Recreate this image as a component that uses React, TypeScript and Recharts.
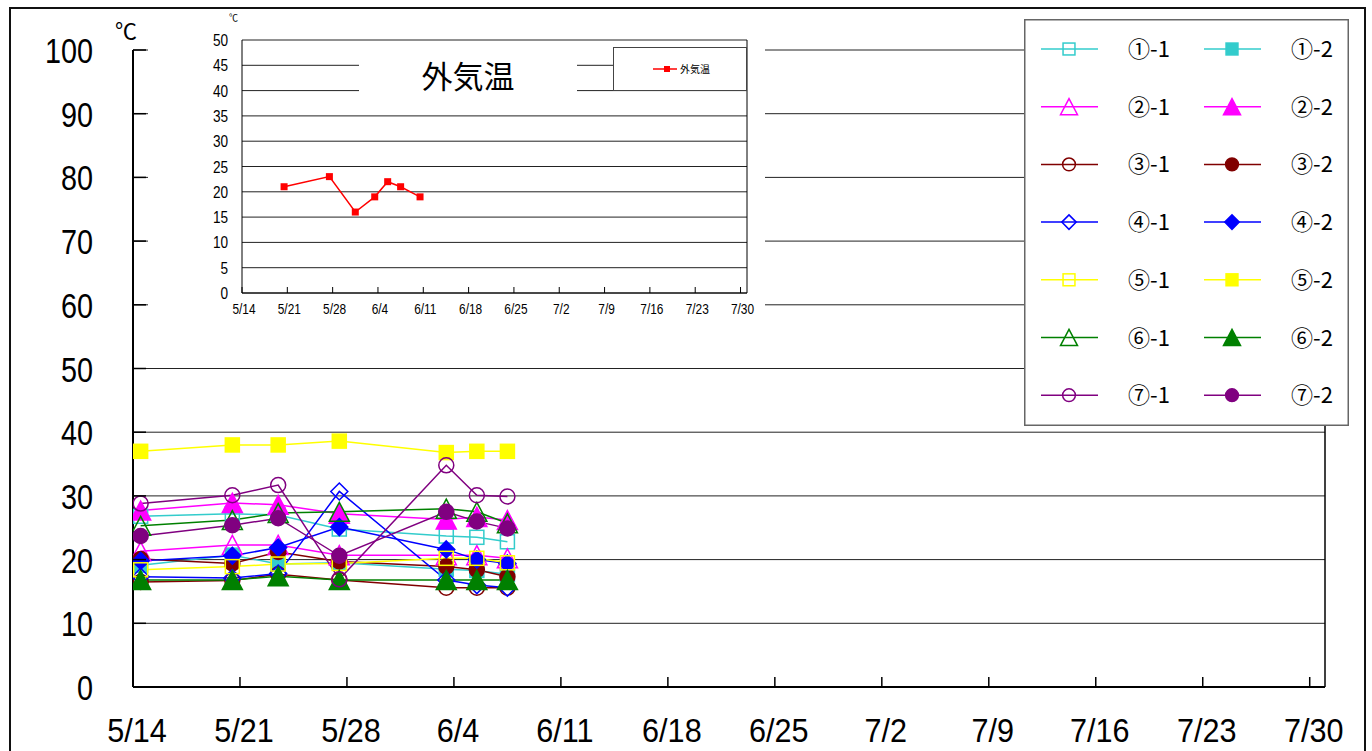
import React from 'react';
import { LineChart, Line, XAxis, YAxis, CartesianGrid, ReferenceLine, Legend } from 'recharts';

const SANS = "'Liberation Sans', Arial, sans-serif";
const JP = "'Noto Sans CJK JP', sans-serif";

// x axis: days after 5/14, one tick per week
const weekTicks = [0, 7, 14, 21, 28, 35, 42, 49, 56, 63, 70, 77];
const weekLabels = ['5/14', '5/21', '5/28', '6/4', '6/11', '6/18', '6/25', '7/2', '7/9', '7/16', '7/23', '7/30'];
const yTicks = [0, 10, 20, 30, 40, 50, 60, 70, 80, 90, 100];
const insetYTicks = [0, 5, 10, 15, 20, 25, 30, 35, 40, 45, 50];

// measurement days (5/14, 5/20, 5/23, 5/27, 6/3, 6/5, 6/7)
const measureDays = [0, 6, 9, 13, 20, 22, 24];
const s1_1 = [26.8, 27.2, 27.0, 24.8, 23.7, 23.5, 22.8];
const s1_2 = [19.1, 20.7, 19.3, 19.5, 18.5, 18.3, 17.7];
const s2_1 = [21.3, 22.3, 22.3, 20.7, 20.7, 20.7, 20.2];
const s2_2 = [27.7, 28.9, 28.6, 27.2, 26.3, 26.7, 26.2];
const s3_1 = [16.5, 16.7, 17.7, 16.8, 15.6, 15.6, 15.6];
const s3_2 = [20.1, 19.4, 21.2, 19.7, 18.9, 18.4, 17.3];
const s4_1 = [17.3, 17.1, 17.8, 30.7, 16.8, 16.0, 15.6];
const s4_2 = [19.8, 20.6, 21.9, 25.1, 21.6, 20.0, 19.4];
const s5_1 = [18.4, 18.9, 19.3, 19.4, 20.2, 20.2, 19.5];
const s5_2 = [37.0, 38.0, 38.0, 38.6, 36.8, 37.0, 37.0];
const s6_1 = [25.3, 26.2, 27.3, 27.5, 28.0, 27.5, 25.7];
const s6_2 = [16.8, 16.8, 17.4, 16.8, 16.8, 16.8, 16.8];
const s7_1 = [28.8, 30.1, 31.7, 16.9, 34.8, 30.1, 29.9];
const s7_2 = [23.7, 25.4, 26.5, 20.6, 27.5, 26.0, 24.9];

// outside temperature (5/20, 5/27, 5/31, 6/3, 6/5, 6/7, 6/10)
const outsideDays = [6, 13, 17, 20, 22, 24, 27];
const outsideTemp = [21, 23, 16, 19, 22, 21, 19];

const series = [
  { key: 's1_1', name: '①-1', values: s1_1, color: '#33CCCC', shape: 'square', filled: false },
  { key: 's1_2', name: '①-2', values: s1_2, color: '#33CCCC', shape: 'square', filled: true },
  { key: 's2_1', name: '②-1', values: s2_1, color: '#FF00FF', shape: 'triangle', filled: false },
  { key: 's2_2', name: '②-2', values: s2_2, color: '#FF00FF', shape: 'triangle', filled: true },
  { key: 's3_1', name: '③-1', values: s3_1, color: '#800000', shape: 'circle', filled: false },
  { key: 's3_2', name: '③-2', values: s3_2, color: '#800000', shape: 'circle', filled: true },
  { key: 's4_1', name: '④-1', values: s4_1, color: '#0000FF', shape: 'diamond', filled: false },
  { key: 's4_2', name: '④-2', values: s4_2, color: '#0000FF', shape: 'diamond', filled: true },
  { key: 's5_1', name: '⑤-1', values: s5_1, color: '#FFFF00', shape: 'square', filled: false },
  { key: 's5_2', name: '⑤-2', values: s5_2, color: '#FFFF00', shape: 'square', filled: true },
  { key: 's6_1', name: '⑥-1', values: s6_1, color: '#008000', shape: 'triangle', filled: false },
  { key: 's6_2', name: '⑥-2', values: s6_2, color: '#008000', shape: 'triangle', filled: true },
  { key: 's7_1', name: '⑦-1', values: s7_1, color: '#800080', shape: 'circle', filled: false },
  { key: 's7_2', name: '⑦-2', values: s7_2, color: '#800080', shape: 'circle', filled: true },
];

// points sit in the middle of their day
const mainRows = measureDays.map((d, i) => {
  const row: any = { x: d + 0.5 };
  series.forEach((s) => { row[s.key] = s.values[i]; });
  return row;
});
const insetRows = outsideDays.map((d, i) => ({ x: d + 0.5, t: outsideTemp[i] }));

const drawMarker = (shape: string, cx: number, cy: number, color: string, filled: boolean, k = 1) => {
  const fill = filled ? color : 'none';
  const sw = 1.5;
  if (shape === 'square') {
    const h = 7 * k;
    return <rect x={cx - h} y={cy - h} width={2 * h} height={2 * h} fill={fill} stroke={color} strokeWidth={sw} />;
  }
  if (shape === 'triangle') {
    const w = 10 * k;
    const h = 9.5 * k;
    return <polygon points={`${cx},${cy - h} ${cx + w},${cy + h} ${cx - w},${cy + h}`} fill={fill} stroke={color} strokeWidth={sw} />;
  }
  if (shape === 'diamond') {
    const h = 8.5 * k;
    return <polygon points={`${cx},${cy - h} ${cx + h},${cy} ${cx},${cy + h} ${cx - h},${cy}`} fill={fill} stroke={color} strokeWidth={sw} />;
  }
  return <circle cx={cx} cy={cy} r={7.5 * k} fill={fill} stroke={color} strokeWidth={sw} />;
};

// horizontally squeezed text, closer to the narrow Japanese UI font
const Narrow = ({ x, y, size, sx, anchor, children }: any) => (
  <text transform={`translate(${x},${y}) scale(${sx},1)`} textAnchor={anchor} fontSize={size} fontFamily={SANS} fill="#000">
    {children}
  </text>
);

const MainXTick = (props: any) => {
  const { x, y, payload } = props;
  const label = weekLabels[weekTicks.indexOf(payload.value)];
  return (
    <g>
      <line x1={x} x2={x} y1={y} y2={y - 10} stroke="#000" strokeWidth={1.5} />
      <Narrow x={x + 4} y={y + 55} size={34} sx={0.9} anchor="middle">{label}</Narrow>
    </g>
  );
};

const MainYTick = (props: any) => {
  const { x, y, payload } = props;
  return (
    <g>
      <line x1={x} x2={x + 13} y1={y} y2={y} stroke="#000" strokeWidth={1.5} />
      <Narrow x={x - 40} y={y + 13} size={36} sx={0.8} anchor="end">{payload.value}</Narrow>
    </g>
  );
};

const InsetXTick = (props: any) => {
  const { x, y, payload } = props;
  const label = weekLabels[weekTicks.indexOf(payload.value)];
  return (
    <g>
      <line x1={x} x2={x} y1={y} y2={y - 6} stroke="#000" />
      <Narrow x={x + 2} y={y + 21} size={14} sx={0.85} anchor="middle">{label}</Narrow>
    </g>
  );
};

const InsetYTick = (props: any) => {
  const { x, y, payload } = props;
  return <Narrow x={x - 14} y={y + 6} size={16} sx={0.85} anchor="end">{payload.value}</Narrow>;
};

const MainLegend = () => (
  <svg width={325} height={407}>
    <rect x={0.75} y={0.75} width={323.5} height={405.5} fill="#fff" stroke="#666" strokeWidth={1.5} />
    {series.map((s, i) => {
      const row = Math.floor(i / 2);
      const col = i % 2;
      const cy = 30 + row * 57.7;
      const x0 = 17 + col * 163;
      return (
        <g key={s.key}>
          <line x1={x0} x2={x0 + 57} y1={cy} y2={cy} stroke={s.color} strokeWidth={1.5} />
          {drawMarker(s.shape, x0 + 28, cy, s.color, s.filled, 0.85)}
          <text x={x0 + 87} y={cy + 8} fontSize={22} fontFamily={JP} fill="#000">{s.name}</text>
        </g>
      );
    })}
  </svg>
);

const InsetLegend = () => (
  <svg width={134} height={44}>
    <rect x={0.5} y={0.5} width={133} height={43} fill="#fff" stroke="#444" />
    <line x1={40} x2={64} y1={22} y2={22} stroke="#FF0000" strokeWidth={1.5} />
    <rect x={51} y={19} width={6} height={6} fill="#FF0000" />
    <text x={67} y={26} fontSize={10} fontFamily={JP} fill="#000">外気温</text>
  </svg>
);

export default function App() {
  return (
    <div style={{ position: 'absolute', left: 0, top: 0, width: 1372, height: 751, background: '#fff', overflow: 'hidden' }}>
      <LineChart width={1372} height={751} data={mainRows} margin={{ top: 50, right: 47, bottom: 0, left: 0 }}>
        <CartesianGrid vertical={false} stroke="#222" />
        <XAxis type="number" dataKey="x" domain={[0, 78]} ticks={weekTicks} interval={0} height={64}
          tickSize={0} tickMargin={0} tick={<MainXTick />} stroke="#000" strokeWidth={2} allowDataOverflow />
        <YAxis type="number" domain={[0, 100]} ticks={yTicks} interval={0} width={133}
          tickSize={0} tickMargin={0} tick={<MainYTick />} stroke="#000" strokeWidth={2} />
        <ReferenceLine x={78} stroke="#000" strokeWidth={1.5} />
        {series.map((s) => (
          <Line
            key={s.key}
            dataKey={s.key}
            name={s.name}
            stroke={s.color}
            strokeWidth={1.5}
            isAnimationActive={false}
            dot={(p: any) => <g key={`${s.key}-${p.index}`}>{drawMarker(s.shape, p.cx, p.cy, s.color, s.filled)}</g>}
            activeDot={false}
          />
        ))}
        <Legend layout="vertical" align="center" verticalAlign="middle" content={<MainLegend />}
          wrapperStyle={{ position: 'absolute', left: 1024, top: 19, width: 325, height: 407 }} />
      </LineChart>

      <div style={{ position: 'absolute', left: 115, top: 14, fontSize: 22, fontFamily: JP, lineHeight: '30px' }}>℃</div>

      <div style={{ position: 'absolute', left: 148, top: 12, width: 617, height: 310, background: '#fff' }}>
        <LineChart width={617} height={310} data={insetRows} margin={{ top: 28, right: 18, bottom: 0, left: 0 }}>
          <CartesianGrid vertical={false} stroke="#222" />
          <XAxis type="number" dataKey="x" domain={[0, 78]} ticks={weekTicks} interval={0} height={29}
            tickSize={0} tickMargin={0} tick={<InsetXTick />} stroke="#000" allowDataOverflow />
          <YAxis type="number" domain={[0, 50]} ticks={insetYTicks} interval={0} width={94}
            tickSize={0} tickMargin={0} tick={<InsetYTick />} stroke="#000" />
          <ReferenceLine x={78} stroke="#000" />
          <Line dataKey="t" name="外気温" stroke="#FF0000" strokeWidth={1.5} isAnimationActive={false} activeDot={false}
            dot={(p: any) => <rect key={`t-${p.index}`} x={p.cx - 3.5} y={p.cy - 3.5} width={7} height={7} fill="#FF0000" />} />
          <Legend layout="vertical" align="center" verticalAlign="middle" content={<InsetLegend />}
            wrapperStyle={{ position: 'absolute', left: 465, top: 35, width: 134, height: 44 }} />
        </LineChart>
        <div style={{ position: 'absolute', left: 211, top: 40, width: 218, height: 46, background: '#fff',
          textAlign: 'center', fontFamily: JP, fontSize: 31, lineHeight: '46px', color: '#000' }}>外気温</div>
        <div style={{ position: 'absolute', left: 81, top: 0, fontSize: 9, fontFamily: JP, lineHeight: '12px' }}>℃</div>
      </div>

      <div style={{ position: 'absolute', left: 9, top: 7, width: 1357, height: 800, border: '2px solid #111', boxSizing: 'border-box', pointerEvents: 'none' }} />
    </div>
  );
}
